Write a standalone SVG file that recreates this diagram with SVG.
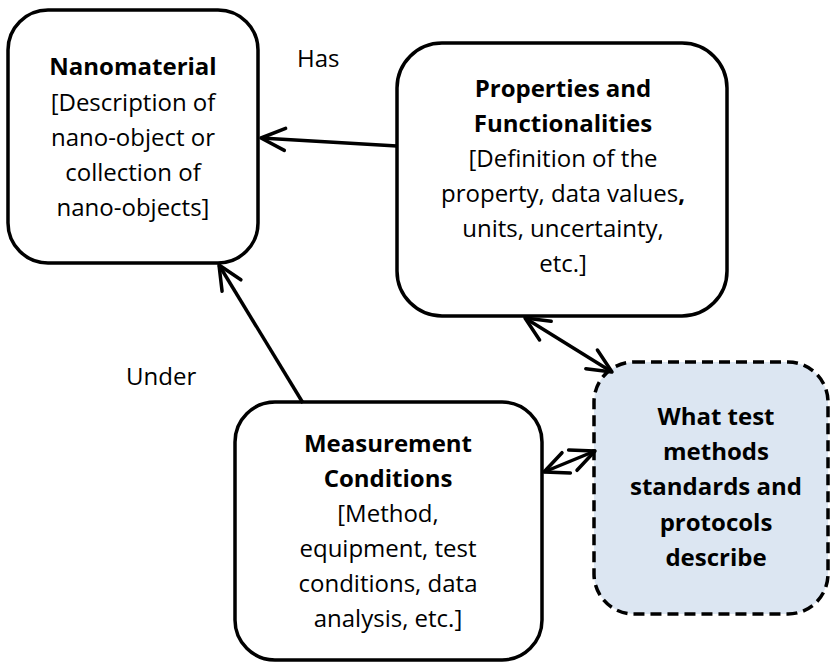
<svg xmlns="http://www.w3.org/2000/svg" width="831" height="662" viewBox="0 0 831 662">
<style>
.box{fill:#fff;stroke:#000;stroke-width:3.5}
.dbox{fill:#dce6f2;stroke:#000;stroke-width:3.5;stroke-dasharray:11 6}
text{font-family:"Open Sans","Liberation Sans",sans-serif;font-size:24px;fill:#000}
.c{text-anchor:middle}
.b{font-weight:bold}
.con{stroke:#000;stroke-width:3.5;fill:none}
</style>
<defs>
<marker id="ah" markerUnits="userSpaceOnUse" markerWidth="40" markerHeight="40" viewBox="-30 -20 40 40" refX="0" refY="0" orient="auto-start-reverse" overflow="visible">
<path d="M-24,-11 L0,0 L-24,11" fill="none" stroke="#000" stroke-width="3.5" stroke-linecap="round" stroke-linejoin="round"/>
</marker>
</defs>
<g id="nanomaterial">
<rect class="box" x="8" y="10" width="250" height="253" rx="40"/>
<text class="c" x="133"><tspan class="b" x="133" y="75">Nanomaterial</tspan><tspan x="133" y="111">[Description of</tspan><tspan x="133" y="146">nano-object or</tspan><tspan x="133" y="181">collection of</tspan><tspan x="133" y="216">nano-objects]</tspan></text>
</g>
<g id="properties">
<rect class="box" x="397" y="43" width="330" height="273" rx="45"/>
<text class="c"><tspan class="b" x="563" y="97">Properties and</tspan><tspan class="b" x="563" y="132">Functionalities</tspan><tspan x="563" y="167">[Definition of the</tspan><tspan x="563" y="202">property, data values<tspan class="b">,</tspan></tspan><tspan x="563" y="237">units, uncertainty,</tspan><tspan x="563" y="272">etc.]</tspan></text>
</g>
<g id="measurement">
<rect class="box" x="235" y="402" width="307" height="258" rx="40"/>
<text class="c"><tspan class="b" x="388" y="452">Measurement</tspan><tspan class="b" x="388" y="487">Conditions</tspan><tspan x="388" y="522">[Method,</tspan><tspan x="388" y="557">equipment, test</tspan><tspan x="388" y="592">conditions, data</tspan><tspan x="388" y="627">analysis, etc.]</tspan></text>
</g>
<g id="standards">
<rect class="dbox" x="594" y="362" width="234" height="252" rx="40"/>
<text class="c b"><tspan x="716" y="425">What test</tspan><tspan x="716" y="460">methods</tspan><tspan x="716" y="495">standards and</tspan><tspan x="716" y="531">protocols</tspan><tspan x="716" y="566">describe</tspan></text>
</g>
<g id="connectors">
<line class="con" x1="397" y1="146" x2="261" y2="138" marker-end="url(#ah)"/>
<line class="con" x1="303" y1="403" x2="219" y2="265" marker-end="url(#ah)"/>
<line class="con" x1="525" y1="318" x2="612" y2="372" marker-start="url(#ah)" marker-end="url(#ah)"/>
<line class="con" x1="544" y1="472" x2="595" y2="451" marker-start="url(#ah)" marker-end="url(#ah)"/>
<text x="297" y="67">Has</text>
<text x="126" y="385">Under</text>
</g>
</svg>
